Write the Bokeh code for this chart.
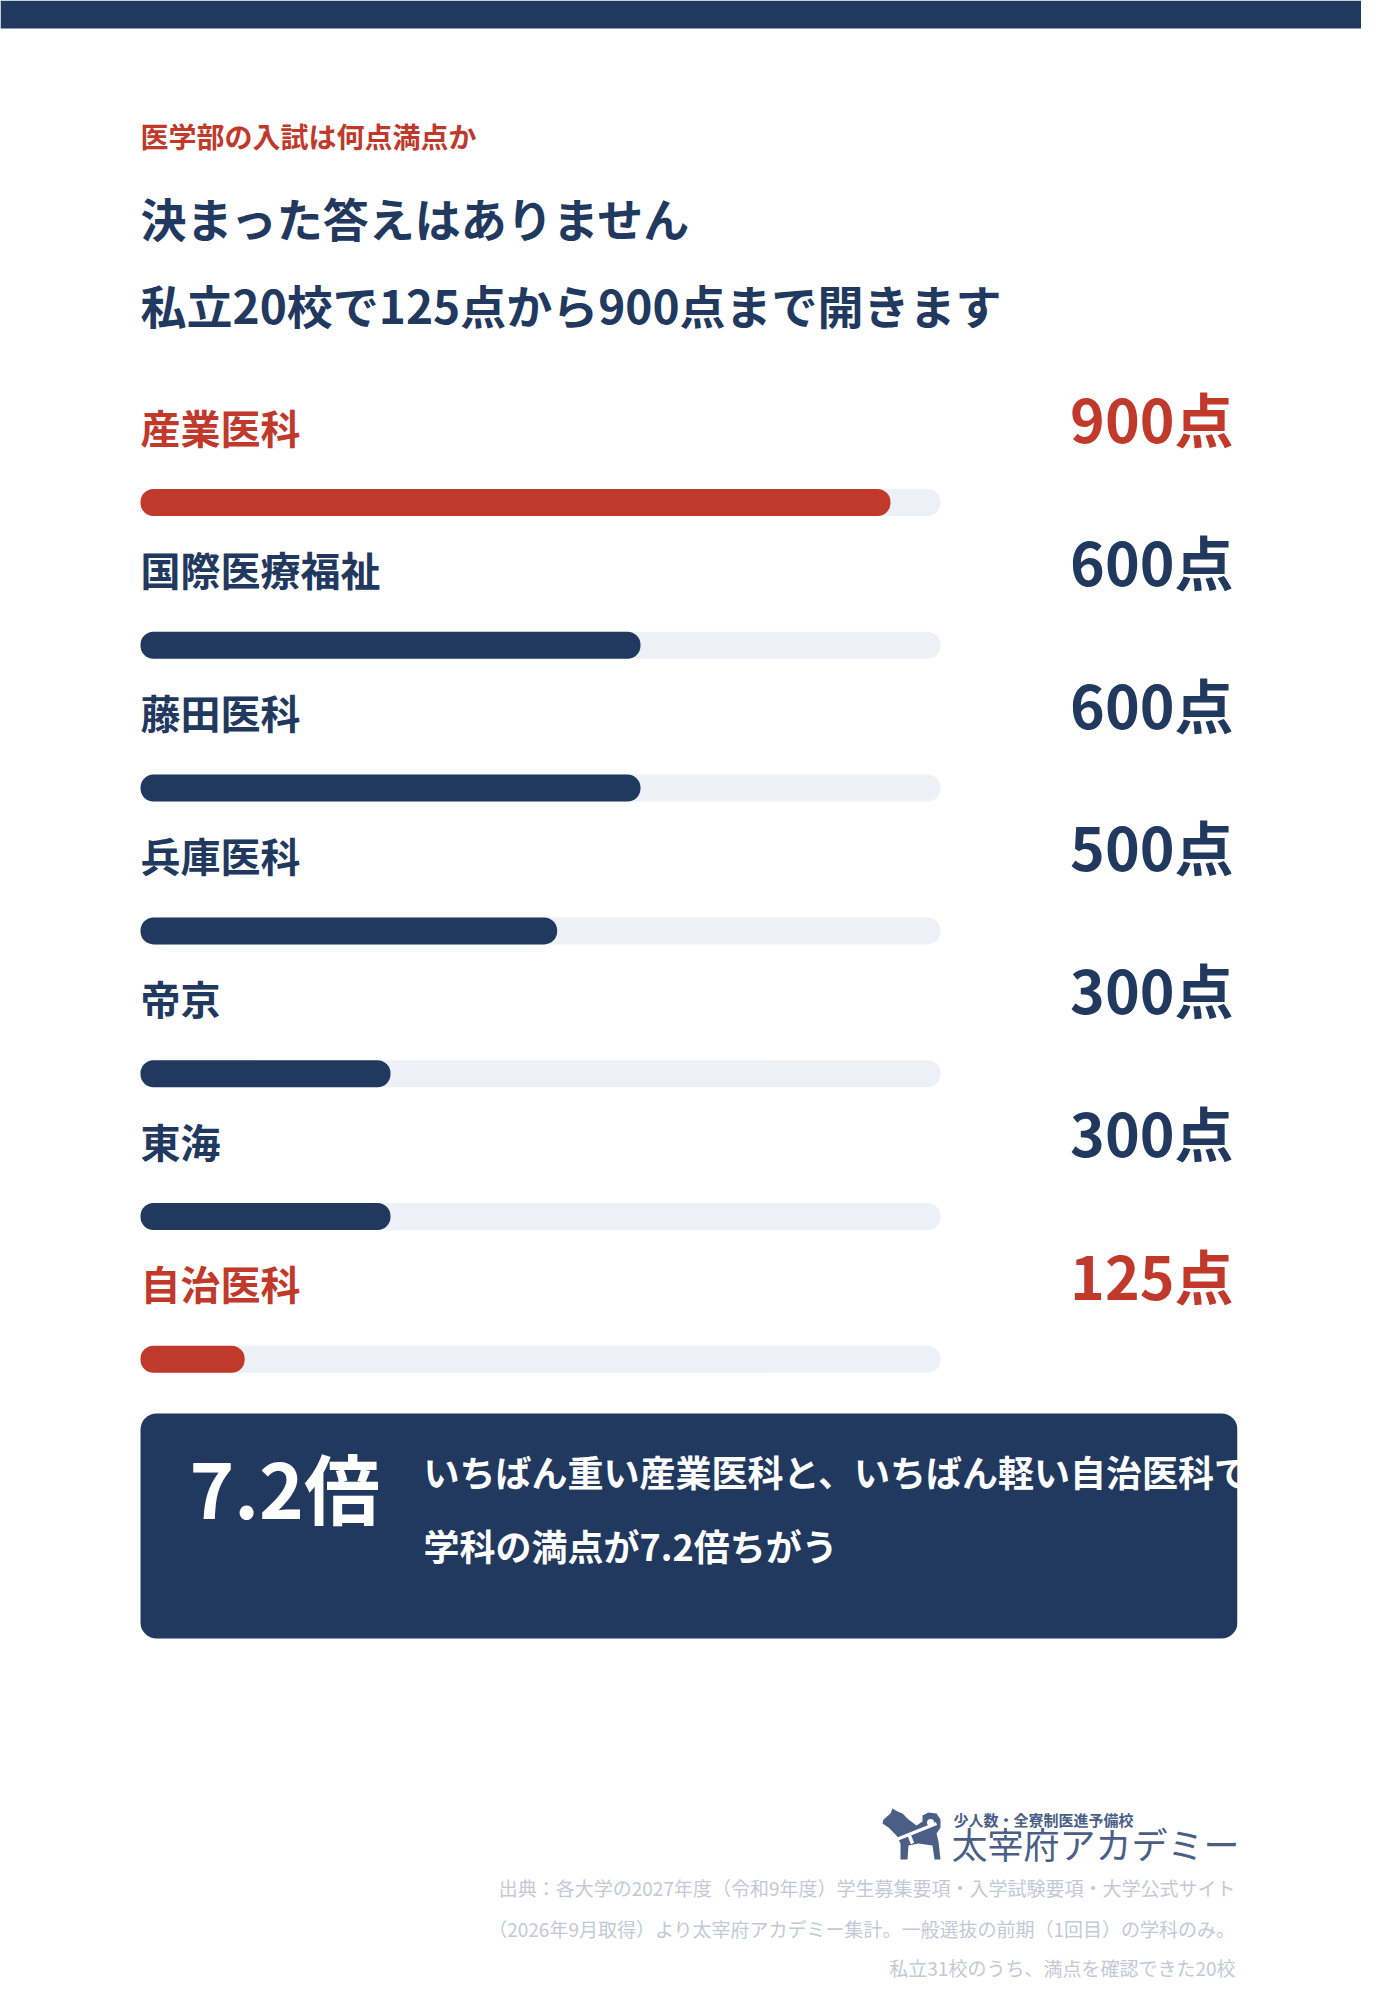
from bokeh.plotting import figure
from bokeh.models import Range1d, ColumnDataSource
from bokeh.core.properties import value
from bokeh.embed import file_html
from bokeh.resources import INLINE

# ---------------- data ----------------
schools = ["産業医科", "国際医療福祉", "藤田医科", "兵庫医科", "帝京", "東海", "自治医科"]
max_scores = [900, 600, 600, 500, 300, 300, 125]
highlight = [True, False, False, False, False, False, True]
score_unit = "点"
SCALE_MAX = 960

eyebrow = "医学部の入試は何点満点か"
title_lines = ["決まった答えはありません", "私立20校で125点から900点まで開きます"]
callout_lines = ["いちばん重い産業医科と、いちばん軽い自治医科で", "学科の満点が7.2倍ちがう"]
footnotes = [
    "出典：各大学の2027年度（令和9年度）学生募集要項・入学試験要項・大学公式サイト",
    "（2026年9月取得）より太宰府アカデミー集計。一般選抜の前期（1回目）の学科のみ。",
    "私立31校のうち、満点を確認できた20校",
]
brand_sub = "少人数・全寮制医進予備校"
brand_name = "太宰府アカデミー"

# ---------------- style / layout ----------------
NAVY = "#21385f"
RED = "#c0392b"
TRACK = "#edf0f7"
FOOT = "#c3c9d6"
LOGO = "#4b5f86"
FONT = value("Noto Sans CJK JP")

W, H = 1361, 1984
LEFT = 140
TRACK_W = 800
ROW0, ROW_H = 502, 142.8
BAR_H = 27

p = figure(width=W, height=H, output_backend="svg", toolbar_location=None,
           x_range=Range1d(0, W), y_range=Range1d(H, 0), min_border=0)
p.axis.visible = False
p.grid.visible = False
p.outline_line_color = None
p.background_fill_color = "white"
p.border_fill_color = "white"

sc = TRACK_W / SCALE_MAX
p.extra_x_ranges = {"score": Range1d(-LEFT / sc, (W - LEFT) / sc)}
p.extra_y_ranges = {"rows": Range1d((H - ROW0) / ROW_H, -ROW0 / ROW_H)}

# top band
p.quad(left=0, right=W, top=0, bottom=28, fill_color=NAVY, line_color=None)

# header texts
p.text(x=[LEFT], y=[135], text=[eyebrow], text_font=FONT, text_font_size="28px",
       text_font_style="bold", text_color=RED, text_baseline="middle")
p.text(x=[LEFT, LEFT], y=[216, 303], text=title_lines, text_font=FONT,
       text_font_size="46px", text_font_style="bold", text_color=NAVY,
       text_baseline="middle")

# bars
rows = list(range(len(schools)))
colors = [RED if h else NAVY for h in highlight]
src = ColumnDataSource(dict(
    row=rows, name=schools, score=max_scores,
    label=[f"{v}{score_unit}" for v in max_scores],
    color=colors, full=[SCALE_MAX] * len(schools), zero=[0] * len(schools),
))
bh = BAR_H / ROW_H
p.hbar(y="row", left="zero", right="full", height=bh, source=src,
       fill_color=TRACK, line_color=None, border_radius=13,
       x_range_name="score", y_range_name="rows")
p.hbar(y="row", left="zero", right="score", height=bh, source=src,
       fill_color="color", line_color=None, border_radius=13,
       x_range_name="score", y_range_name="rows")
p.text(x="zero", y="row", text="name", source=src, y_offset=-76,
       text_font=FONT, text_font_size="40px", text_font_style="bold",
       text_color="color", text_baseline="middle",
       x_range_name="score", y_range_name="rows")
p.text(x=1233, y="row", text="label", source=src, y_offset=-85,
       text_font=FONT, text_font_size="59px", text_font_style="bold",
       text_color="color", text_baseline="middle", text_align="right",
       y_range_name="rows")

# callout box
BOX_L, BOX_R, BOX_T, BOX_B = 140, 1237, 1413, 1638
p.quad(left=BOX_L, right=BOX_R, top=BOX_T, bottom=BOX_B, fill_color=NAVY,
       line_color=None, border_radius=16)
ratio = max(max_scores) / min(max_scores)
p.text(x=[189], y=[1485], text=[f"{ratio:.1f}倍"], text_font=FONT,
       text_font_size="76px", text_font_style="bold", text_color="white",
       text_baseline="middle")
p.text(x=[423, 423], y=[1470, 1544], text=callout_lines, text_font=FONT,
       text_font_size="36px", text_font_style="bold", text_color="white",
       text_baseline="middle")
# overflow of the callout text is hidden beyond the box edge
p.quad(left=BOX_R, right=W, top=BOX_T, bottom=BOX_B, fill_color="white",
       line_color=None)

# logo (dog mark)
ox, oy = 878, 1805
dog_x = [5, 12, 14, 19, 24, 30, 38, 44, 44, 50, 58, 62, 62, 58, 60, 62, 56, 54, 40, 30, 29, 22, 22, 18, 10, 4]
dog_y = [14, 8, 3, 6, 8, 14, 20, 16, 10, 7, 8, 14, 22, 28, 36, 54, 54, 40, 38, 40, 54, 54, 38, 30, 22, 18]
p.patch(x=[ox + v for v in dog_x], y=[oy + v for v in dog_y], fill_color=LOGO,
        line_color=None)
p.segment(x0=[ox + 18, ox + 30], y0=[oy + 34, oy + 28], x1=[ox + 58, ox + 34],
          y1=[oy + 18, oy + 38], line_color="white", line_width=3.5)
p.scatter(x=[ox + 52], y=[oy + 17], size=7, fill_color="white", line_color=None)
p.text(x=[953], y=[1819], text=[brand_sub], text_font=FONT, text_font_size="15px",
       text_font_style="bold", text_color=LOGO, text_baseline="middle")
p.text(x=[951], y=[1842], text=[brand_name], text_font=FONT, text_font_size="36px",
       text_color=LOGO, text_baseline="middle")

# footnotes
p.text(x=[1235] * 3, y=[1887, 1928, 1967], text=footnotes, text_font=FONT,
       text_font_size="19px", text_color=FOOT, text_baseline="middle",
       text_align="right")

open("out.html", "w").write(file_html(p, INLINE))
